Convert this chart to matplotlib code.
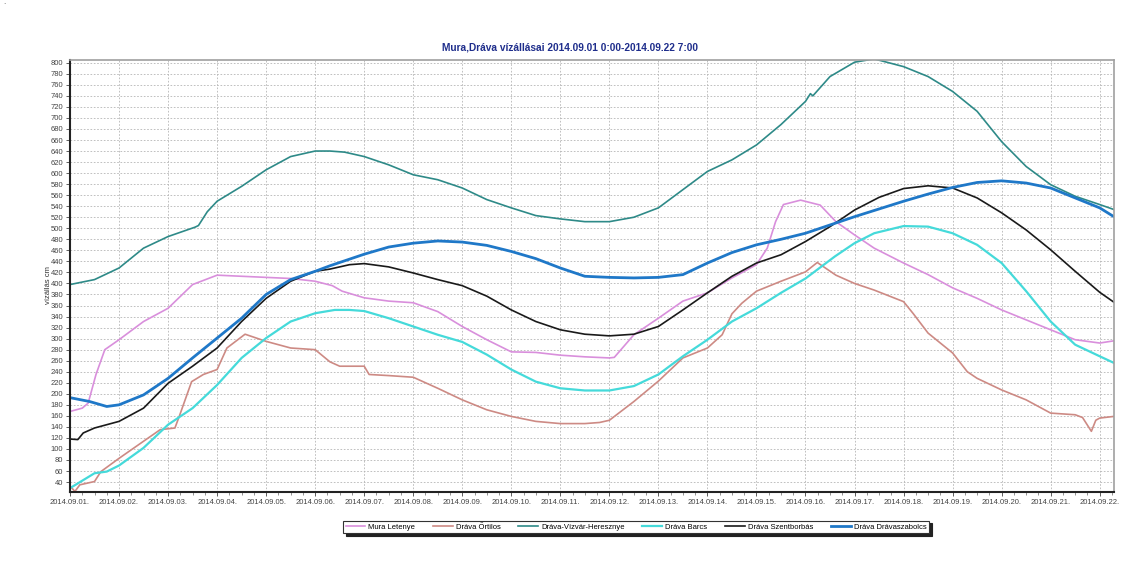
import matplotlib
matplotlib.use("Agg")
import matplotlib.pyplot as plt
import matplotlib.dates as mdates
import pandas as pd

plt.rcParams['font.family'] = ['Liberation Sans', 'DejaVu Sans']

title = "Mura,Dráva vízállásai 2014.09.01 0:00-2014.09.22 7:00"
ylabel = "vízállás cm"
start = "2014-09-01 00:00"
end = "2014-09-22 07:00"

# time offsets in days from start, values in cm
mura_t = [0, 0.25, 0.37, 0.53, 0.71, 1, 1.5, 2, 2.5, 3, 3.5, 4, 4.5, 5, 5.35, 5.55, 6, 6.5, 7,
          7.5, 8, 8.5, 9, 9.5, 10, 10.5, 11, 11.1, 11.5, 12, 12.5, 13, 13.5, 14, 14.22, 14.39,
          14.55, 14.9, 15.3, 15.62, 16, 16.4, 17, 17.5, 18, 18.5, 19, 19.5, 20, 20.5, 21, 21.29]
mura_v = [168, 174, 183, 235, 280, 298, 331, 355, 398, 415, 413, 411, 409, 404, 396, 386, 374, 368, 365,
          349, 322, 298, 276, 275, 270, 267, 265, 266, 307, 337, 368, 383, 410, 434, 464, 512,
          543, 551, 542, 512, 488, 464, 437, 416, 392, 373, 352, 334, 316, 298, 292, 296]

ortilos_t = [0, 0.1, 0.2, 0.5, 0.63, 1, 1.5, 1.84, 2.14, 2.24, 2.48, 2.72, 3, 3.2, 3.57, 4, 4.5, 5,
             5.3, 5.5, 6, 6.1, 6.5, 7, 7.5, 8, 8.5, 9, 9.5, 10, 10.5, 10.8, 11, 11.5, 12, 12.5, 13,
             13.3, 13.5, 13.7, 14, 14.5, 15, 15.24, 15.62, 16, 16.4, 17, 17.2, 17.5, 18, 18.3, 18.5,
             19, 19.5, 20, 20.5, 20.65, 20.83, 20.92, 21, 21.29]
ortilos_v = [33, 23, 35, 41, 59, 83, 114, 135, 138, 162, 222, 235, 244, 283, 308, 295, 283, 280,
             258, 250, 250, 235, 233, 230, 210, 189, 171, 159, 150, 146, 146, 148, 152, 186, 223, 265, 283,
             307, 345, 364, 386, 404, 421, 438, 415, 400, 388, 367, 345, 310, 274, 240, 228,
             207, 189, 165, 162, 157, 132, 152, 156, 159]

vizvar_t = [0, 0.5, 1, 1.5, 2, 2.55, 2.62, 2.8, 3, 3.5, 4, 4.5, 5, 5.3, 5.6, 6, 6.5, 7, 7.5, 8, 8.5,
            9, 9.5, 10, 10.5, 11, 11.5, 12, 12.5, 13, 13.5, 14, 14.5, 15, 15.1, 15.15, 15.5, 16, 16.4,
            17, 17.5, 18, 18.5, 19, 19.5, 20, 20.5, 21, 21.29]
vizvar_v = [398, 407, 428, 464, 485, 502, 505, 530, 549, 576, 606, 630, 640, 640, 638, 630, 615, 597, 588, 573, 552,
            537, 523, 517, 512, 512, 520, 537, 570, 603, 624, 651, 688, 730, 744, 740, 775, 801, 807,
            793, 775, 748, 712, 657, 612, 579, 558, 543, 534]

barcs_t = [0, 0.5, 0.75, 1, 1.5, 2, 2.5, 3, 3.5, 4, 4.5, 5, 5.4, 5.7, 6, 6.5, 7, 7.5, 8, 8.5, 9, 9.5,
           10, 10.5, 11, 11.5, 12, 12.5, 13, 13.5, 14, 14.5, 15, 15.6, 16, 16.4, 17, 17.5, 18, 18.5,
           19, 19.5, 20, 20.5, 21, 21.29]
barcs_v = [29, 56, 59, 70, 102, 144, 174, 216, 265, 301, 331, 346, 352, 352, 350, 337, 322, 307, 294, 271, 244, 222,
           210, 206, 206, 214, 235, 268, 298, 331, 355, 383, 409, 449, 473, 491, 504, 503, 491, 470,
           437, 386, 331, 289, 268, 256]

szentb_t = [0, 0.16, 0.27, 0.5, 1, 1.5, 2, 2.5, 3, 3.5, 4, 4.5, 5, 5.3, 5.7, 6, 6.5, 7, 7.5, 8, 8.5,
            9, 9.5, 10, 10.5, 11, 11.5, 12, 12.5, 13, 13.5, 14, 14.5, 15, 15.5, 16, 16.5, 17, 17.5,
            18, 18.5, 19, 19.5, 20, 20.5, 21, 21.29]
szentb_v = [118, 117, 129, 138, 150, 174, 219, 250, 283, 331, 373, 404, 422, 426, 434, 436, 430, 419, 407, 396, 377,
            352, 331, 316, 308, 305, 308, 322, 352, 383, 413, 437, 452, 476, 503, 533, 556, 572, 577,
            573, 555, 528, 497, 461, 422, 384, 366]

dszab_t = [0, 0.4, 0.75, 1, 1.5, 2, 2.5, 3, 3.5, 4, 4.5, 5, 5.3, 6, 6.5, 7, 7.5, 8, 8.5, 9, 9.5, 10,
           10.5, 11, 11.5, 12, 12.5, 13, 13.5, 14, 14.5, 15, 15.5, 16, 16.5, 17, 17.5, 18, 18.5, 19,
           19.5, 20, 20.5, 21, 21.29]
dszab_v = [193, 186, 177, 180, 198, 228, 265, 301, 337, 380, 407, 422, 432, 453, 466, 473, 477, 475, 469, 458, 445, 428,
           413, 411, 410, 411, 416, 437, 456, 470, 480, 491, 506, 521, 535, 549, 562, 574, 583, 586,
           582, 573, 555, 537, 521]

series = [
    ("Mura Letenye", mura_t, mura_v, "#d98fdc", 1.2),
    ("Dráva Őrtilos", ortilos_t, ortilos_v, "#cd8a84", 1.2),
    ("Dráva-Vízvár-Heresznye", vizvar_t, vizvar_v, "#2e8a88", 1.2),
    ("Dráva Barcs", barcs_t, barcs_v, "#45dada", 1.6),
    ("Dráva Szentborbás", szentb_t, szentb_v, "#1a1a1a", 1.2),
    ("Dráva Drávaszabolcs", dszab_t, dszab_v, "#1f78c8", 2.0),
]

t0 = pd.Timestamp(start)
fig = plt.figure(figsize=(11.38, 5.65), dpi=100)
ax = fig.add_axes([70 / 1138, 1 - 492 / 565, (1114 - 70) / 1138, (492 - 60) / 565])

for name, t, v, c, lw in series:
    x = [t0 + pd.Timedelta(days=d) for d in t]
    ax.plot(x, v, color=c, lw=lw, label=name)

ax.set_xlim(t0, pd.Timestamp(end))
ax.set_ylim(22, 805)
ax.set_yticks(range(40, 801, 20))
ax.xaxis.set_major_locator(mdates.DayLocator())
ax.xaxis.set_major_formatter(mdates.DateFormatter('%Y.%m.%d.'))
ax.xaxis.set_minor_locator(mdates.HourLocator(byhour=[6, 12, 18]))
ax.tick_params(axis='both', which='major', labelsize=5.5, length=3, width=0.6,
               colors='#444444', pad=2)
ax.tick_params(axis='x', which='minor', length=2, width=0.5, colors='#666666')
ax.grid(True, which='major', color='#b5b5b5', linestyle=(0, (2, 2)), linewidth=0.6)
for s in ['left', 'bottom']:
    ax.spines[s].set_color('#222222')
    ax.spines[s].set_linewidth(1.5)
for s in ['top', 'right']:
    ax.spines[s].set_color('#a0a0a0')
    ax.spines[s].set_linewidth(1.2)

fig.text(570 / 1138, 1 - 47 / 565, title, ha='center', va='center', fontsize=7.3,
         fontweight='bold', color='#1f2e8c')
fig.text(48 / 1138, 1 - 285 / 565, ylabel, rotation=90, ha='center', va='center',
         fontsize=5.5, color='#333333')
fig.text(3 / 1138, 1 - 4 / 565, ".", fontsize=6, color='#555555')

leg = fig.legend(loc='center', bbox_to_anchor=(636 / 1138, 1 - 527 / 565), ncol=6,
                 fontsize=5.5, frameon=True, fancybox=False, edgecolor='#333333',
                 handlelength=2.6, columnspacing=2.3, handletextpad=0.4, borderpad=0.35,
                 shadow={'color': '#222222', 'alpha': 1.0})
leg.get_frame().set_linewidth(0.8)

fig.savefig("out.png", dpi=100, facecolor='white')
